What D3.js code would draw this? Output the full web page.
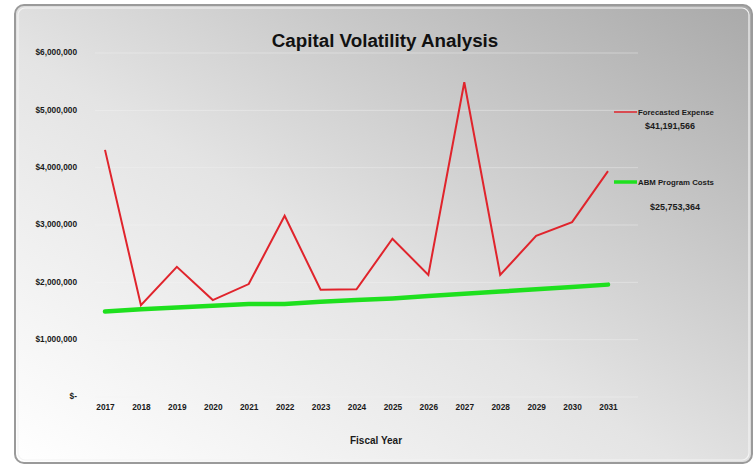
<!DOCTYPE html>
<html>
<head>
<meta charset="utf-8">
<script src="https://cdnjs.cloudflare.com/ajax/libs/d3/7.8.5/d3.min.js"></script>
<style>
  body { margin: 0; background: #fff; }
  svg { display: block; font-family: "Liberation Sans", Arial, sans-serif; }
</style>
</head>
<body>
<svg width="754" height="466"></svg>
<script>
// chart data
const years = ["2017", "2018", "2019", "2020", "2021", "2022", "2023", "2024",
  "2025", "2026", "2027", "2028", "2029", "2030", "2031"];
const forecasted = [4310000, 1600000, 2270000, 1690000, 1970000, 3160000, 1870000,
  1880000, 2760000, 2130000, 5490000, 2130000, 2810000, 3050000, 3940000];
const abmCosts = [1490000, 1530000, 1560000, 1590000, 1620000, 1620000, 1660000,
  1690000, 1720000, 1760000, 1800000, 1840000, 1880000, 1920000, 1960000];
const yTicks = [0, 1000000, 2000000, 3000000, 4000000, 5000000, 6000000];
const seriesNames = ["Forecasted Expense", "ABM Program Costs"];
const seriesTotals = ["$41,191,566", "$25,753,364"];

const svg = d3.select("svg");
const margin = { left: 105, right: 146, top: 53, bottom: 69 };
const width = 754 - margin.left - margin.right;
const height = 466 - margin.top - margin.bottom;

// background gradient + frame
const defs = svg.append("defs");
const grad = defs.append("linearGradient")
  .attr("id", "bg")
  .attr("x1", "0%").attr("y1", "100%")
  .attr("x2", "100%").attr("y2", "0%");
grad.append("stop").attr("offset", "0%").attr("stop-color", "#ffffff");
grad.append("stop").attr("offset", "45%").attr("stop-color", "#e4e4e4");
grad.append("stop").attr("offset", "100%").attr("stop-color", "#a9a9a9");

svg.append("rect")
  .attr("x", 15).attr("y", 5)
  .attr("width", 737).attr("height", 458)
  .attr("rx", 9)
  .attr("fill", "url(#bg)")
  .attr("stroke", "#9a9a9a")
  .attr("stroke-width", 2);
svg.append("rect")
  .attr("x", 18).attr("y", 8)
  .attr("width", 731).attr("height", 452)
  .attr("rx", 7)
  .attr("fill", "none")
  .attr("stroke", "#f4f4f4")
  .attr("stroke-width", 1.2);

const g = svg.append("g")
  .attr("transform", "translate(" + margin.left + "," + margin.top + ")");

const x = d3.scalePoint().domain(years).range([0, width]);
const y = d3.scaleLinear().domain([0, 6000000]).range([height, 0]);

// grid lines (very faint)
g.selectAll(".grid")
  .data(yTicks)
  .enter()
  .append("line")
  .attr("x1", -10)
  .attr("x2", width + 30)
  .attr("y1", d => y(d))
  .attr("y2", d => y(d))
  .attr("stroke", "#f4f4f4")
  .attr("stroke-opacity", 0.4)
  .attr("stroke-width", 1);

// y axis labels
const fmt = d3.format(",");
g.append("g")
  .call(d3.axisLeft(y).tickValues(yTicks).tickSize(0).tickPadding(28)
    .tickFormat(d => d === 0 ? "$-" : "$" + fmt(d)))
  .call(a => a.select(".domain").remove())
  .selectAll("text")
  .attr("font-size", "8.3px")
  .attr("font-weight", "bold")
  .attr("fill", "#1a1a1a")
  .attr("font-family", "'Liberation Sans', Arial, sans-serif")
  .attr("dy", "0.2em");

// x axis labels
g.append("g")
  .attr("transform", "translate(0," + height + ")")
  .call(d3.axisBottom(x).tickSize(0).tickPadding(7))
  .call(a => a.select(".domain").remove())
  .selectAll("text")
  .attr("font-size", "8.3px")
  .attr("font-weight", "bold")
  .attr("fill", "#1a1a1a")
  .attr("font-family", "'Liberation Sans', Arial, sans-serif");

const line = d3.line()
  .x((d, i) => x(years[i]))
  .y(d => y(d));

g.append("path")
  .datum(abmCosts)
  .attr("fill", "none")
  .attr("stroke", "#1ee01e")
  .attr("stroke-width", 4.5)
  .attr("stroke-linecap", "round")
  .attr("d", line);

g.append("path")
  .datum(forecasted)
  .attr("fill", "none")
  .attr("stroke", "#e0242c")
  .attr("stroke-width", 2)
  .attr("d", line);

// title
svg.append("text")
  .attr("x", 385)
  .attr("y", 47)
  .attr("text-anchor", "middle")
  .attr("font-size", "18.8px")
  .attr("font-weight", "bold")
  .attr("fill", "#111")
  .text("Capital Volatility Analysis");

// x axis title
svg.append("text")
  .attr("x", 376)
  .attr("y", 444)
  .attr("text-anchor", "middle")
  .attr("font-size", "10px")
  .attr("font-weight", "bold")
  .attr("fill", "#1a1a1a")
  .text("Fiscal Year");

// legend
const legendColors = ["#e0242c", "#1ee01e"];
const legendWidths = [1.5, 3.5];
const legendY = [112, 182];
const totalY = [129, 210];
const totalX = [645, 650];
seriesNames.forEach(function(name, i) {
  const row = svg.append("g");
  row.append("line")
    .attr("x1", 614).attr("x2", 637)
    .attr("y1", legendY[i]).attr("y2", legendY[i])
    .attr("stroke", legendColors[i])
    .attr("stroke-width", legendWidths[i]);
  row.append("text")
    .attr("x", 638)
    .attr("y", legendY[i] + 3)
    .attr("font-size", "7.8px")
    .attr("font-weight", "bold")
    .attr("fill", "#1a1a1a")
    .text(name);
  row.append("text")
    .attr("x", totalX[i])
    .attr("y", totalY[i])
    .attr("font-size", "9px")
    .attr("font-weight", "bold")
    .attr("fill", "#1a1a1a")
    .text(seriesTotals[i]);
});
</script>
</body>
</html>
